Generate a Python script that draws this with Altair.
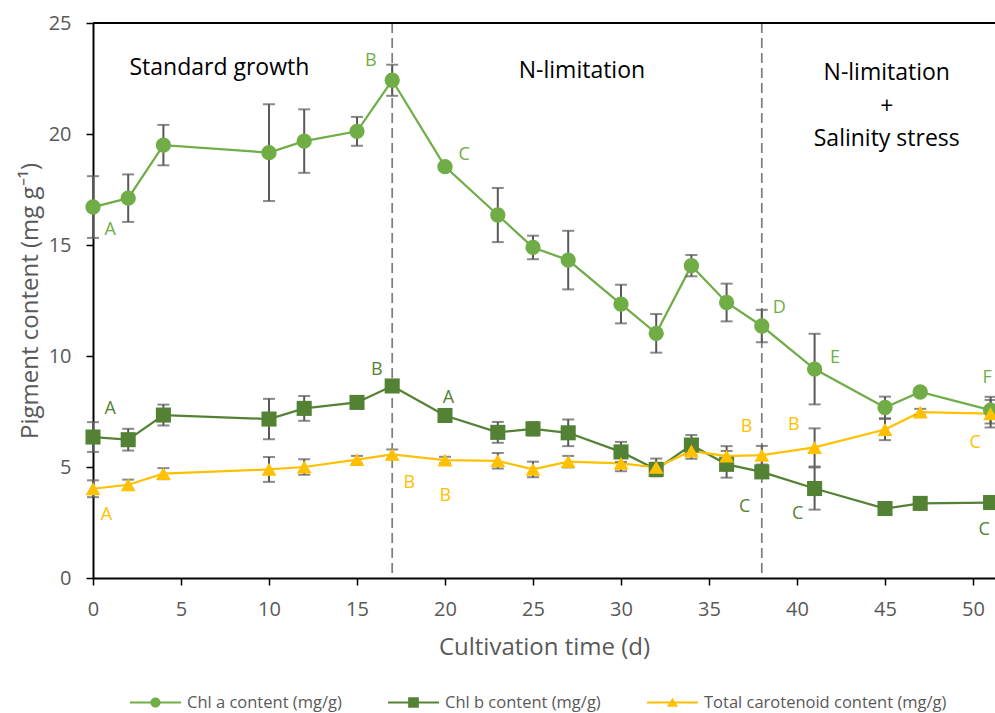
import altair as alt
import pandas as pd

# ---------------- data ----------------
days = [0, 2, 4, 10, 12, 15, 17, 20, 23, 25, 27, 30, 32, 34, 36, 38, 41, 45, 47, 51]

chl_a = [16.71, 17.11, 19.50, 19.16, 19.68, 20.12, 22.42, 18.53, 16.35, 14.89,
         14.32, 12.34, 11.02, 14.07, 12.41, 11.35, 9.41, 7.68, 8.38, 7.56]
chl_a_err = [1.39, 1.07, 0.91, 2.18, 1.43, 0.65, 0.70, 0.15, 1.22, 0.53,
             1.32, 0.87, 0.87, 0.48, 0.85, 0.73, 1.59, 0.49, 0.12, 0.60]

chl_b = [6.35, 6.23, 7.34, 7.16, 7.64, 7.91, 8.65, 7.32, 6.56, 6.72,
         6.54, 5.68, 4.89, 5.99, 5.12, 4.78, 4.03, 3.13, 3.36, 3.40]
chl_b_err = [0.67, 0.49, 0.47, 0.91, 0.56, 0.15, 0.20, 0.15, 0.47, 0.30,
             0.60, 0.45, 0.30, 0.45, 0.60, 0.20, 0.95, 0.15, 0.12, 0.12]

carot = [4.02, 4.20, 4.70, 4.89, 5.00, 5.33, 5.57, 5.31, 5.28, 4.89,
         5.24, 5.16, 4.98, 5.72, 5.49, 5.53, 5.88, 6.69, 7.47, 7.40]
carot_err = [0.38, 0.23, 0.25, 0.56, 0.35, 0.17, 0.22, 0.15, 0.35, 0.35,
             0.26, 0.35, 0.40, 0.35, 0.45, 0.42, 0.86, 0.48, 0.15, 0.62]

series_names = ["Chl a content (mg/g)", "Chl b content (mg/g)", "Total carotenoid content (mg/g)"]
series_colors = ["#70AD47", "#548235", "#FFC000"]
series_shapes = ["circle", "square", "triangle-up"]
series_sizes = [235, 220, 300]

# significance letters
sig_x = [0.97, 15.78, 21.09, 39.0, 42.16, 50.8,
         0.97, 16.12, 20.2, 37.03, 40.04, 50.63,
         0.77, 17.97, 20.02, 37.14, 39.82, 50.12]
sig_y = [15.68, 23.27, 19.06, 12.14, 9.89, 8.99,
         7.63, 9.35, 8.09, 3.2, 2.9, 2.15,
         2.82, 4.28, 3.68, 6.81, 6.89, 6.06]
sig_text = ["A", "B", "C", "D", "E", "F",
            "A", "B", "A", "C", "C", "C",
            "A", "B", "B", "B", "B", "C"]
sig_series = [series_names[0]] * 6 + [series_names[1]] * 6 + [series_names[2]] * 6

# phase annotations
phase_days = [17, 38]
phase_label_x = [7.18, 27.78, 45.1, 45.1, 45.1]
phase_label_y = [22.97, 22.82, 22.77, 21.23, 19.79]
phase_label_text = ["Standard growth", "N-limitation", "N-limitation", "+", "Salinity stress"]

x_ticks = [0, 5, 10, 15, 20, 25, 30, 35, 40, 45, 50]
y_ticks = [0, 5, 10, 15, 20, 25]

# ---------------- tables ----------------
rows = []
for name, vals, errs in zip(series_names, [chl_a, chl_b, carot], [chl_a_err, chl_b_err, carot_err]):
    for d, v, e in zip(days, vals, errs):
        rows.append({"day": d, "value": v, "lo": v - e, "hi": v + e, "series": name})
df = pd.DataFrame(rows)

sig_df = pd.DataFrame({"x": sig_x, "y": sig_y, "text": sig_text, "series": sig_series})
phase_df = pd.DataFrame({"day": phase_days})
plabel_df = pd.DataFrame({"x": phase_label_x, "y": phase_label_y, "text": phase_label_text})

FONT = "Open Sans"
GREY = "#595959"

W, H = 902, 555
x_scale = alt.Scale(domain=[0, 51.25], nice=False, zero=False)
y_scale = alt.Scale(domain=[0, 25], nice=False)


def cscale():
    return alt.Scale(domain=series_names, range=series_colors)


x_axis = alt.Axis(values=x_ticks, title="Cultivation time (d)", grid=False,
                  domainColor="black", domainWidth=2, tickColor="black", tickWidth=1.5,
                  tickSize=7, labelFont=FONT, labelFontSize=20, labelColor=GREY,
                  labelPadding=14, labelFlush=False,
                  titleFont=FONT, titleFontSize=24, titleFontWeight="normal",
                  titleColor=GREY, titlePadding=16)
y_axis = alt.Axis(values=y_ticks, title="Pigment content (mg g\u207b\u00b9)", grid=False,
                  domainColor="black", domainWidth=2, tickColor="black", tickWidth=1.5,
                  tickSize=7, labelFont=FONT, labelFontSize=20, labelColor=GREY,
                  labelPadding=15, labelFlush=False,
                  titleFont=FONT, titleFontSize=24, titleFontWeight="normal",
                  titleColor=GREY, titlePadding=6)

X = alt.X("day:Q", scale=x_scale, axis=x_axis)
Y = alt.Y("value:Q", scale=y_scale, axis=y_axis)

base = alt.Chart(df)

lines = base.mark_line(strokeWidth=2.25).encode(
    x=X, y=Y, color=alt.Color("series:N", scale=cscale(), legend=None)
)

points = base.mark_point(filled=True, opacity=1).encode(
    x=X, y=Y,
    color=alt.Color("series:N", scale=cscale(), legend=None),
    shape=alt.Shape("series:N", scale=alt.Scale(domain=series_names, range=series_shapes), legend=None),
    size=alt.Size("series:N", scale=alt.Scale(domain=series_names, range=series_sizes), legend=None),
)

err_rule = base.mark_rule(color=GREY, strokeWidth=2).encode(
    x=alt.X("day:Q", scale=x_scale), y=alt.Y("lo:Q", scale=y_scale), y2="hi:Q"
)
err_caps = base.transform_fold(["lo", "hi"], as_=["end", "v"]).mark_tick(
    orient="horizontal", size=12, thickness=2, color=GREY
).encode(x=alt.X("day:Q", scale=x_scale), y=alt.Y("v:Q", scale=y_scale))

phase_rules = alt.Chart(phase_df).mark_rule(
    color="#7F7F7F", strokeWidth=1.75, strokeDash=[10, 5]
).encode(x=alt.X("day:Q", scale=x_scale))

top_border = alt.Chart(phase_df).mark_rule(color="black", strokeWidth=2).encode(
    y=alt.datum(25, scale=y_scale)
)

phase_text = alt.Chart(plabel_df).mark_text(
    font=FONT, fontSize=23, color="black", align="center", baseline="middle"
).encode(x=alt.X("x:Q", scale=x_scale), y=alt.Y("y:Q", scale=y_scale), text="text:N")

sig_labels = alt.Chart(sig_df).mark_text(
    font=FONT, fontSize=18, align="center", baseline="middle"
).encode(
    x=alt.X("x:Q", scale=x_scale), y=alt.Y("y:Q", scale=y_scale), text="text:N",
    color=alt.Color("series:N", scale=cscale(), legend=None),
)

# legend symbols: line + marker (custom paths in the [-1, 1] box)
legend_paths = [
    "M-1,-0.04 L1,-0.04 L1,0.04 L-1,0.04 Z M0.2,0 A0.2,0.2 0 1,1 -0.2,0 A0.2,0.2 0 1,1 0.2,0 Z",
    "M-1,-0.04 L1,-0.04 L1,0.04 L-1,0.04 Z M-0.21,-0.21 L0.21,-0.21 L0.21,0.21 L-0.21,0.21 Z",
    "M-1,-0.04 L1,-0.04 L1,0.04 L-1,0.04 Z M0,-0.19 L0.22,0.17 L-0.22,0.17 Z",
]
leg = alt.Legend(title=None, orient="none", direction="horizontal", columns=3,
                 legendX=37, legendY=654, symbolSize=2601, symbolStrokeWidth=0,
                 symbolOpacity=1, labelFont=FONT, labelFontSize=16.5, labelColor=GREY,
                 labelOffset=6, columnPadding=46, padding=0, labelLimit=400)

legend_layer = base.transform_filter("false").mark_point(filled=True, opacity=1).encode(
    x=alt.X("day:Q", scale=x_scale), y=alt.Y("value:Q", scale=y_scale),
    color=alt.Color("series:N", scale=cscale(), legend=leg),
    shape=alt.Shape("series:N", scale=alt.Scale(domain=series_names, range=legend_paths), legend=leg),
)

chart = alt.layer(
    phase_rules, top_border, lines, err_rule, err_caps, points,
    phase_text, sig_labels, legend_layer
).resolve_scale(
    color="independent", shape="independent", size="independent"
).properties(
    width=W, height=H,
    autosize=alt.AutoSizeParams(type="none"),
    padding={"left": 93, "top": 23, "right": 0, "bottom": 135},
    background="white",
).configure_view(stroke=None)

chart.save("out.html", embed_options={"renderer": "svg", "actions": False})
